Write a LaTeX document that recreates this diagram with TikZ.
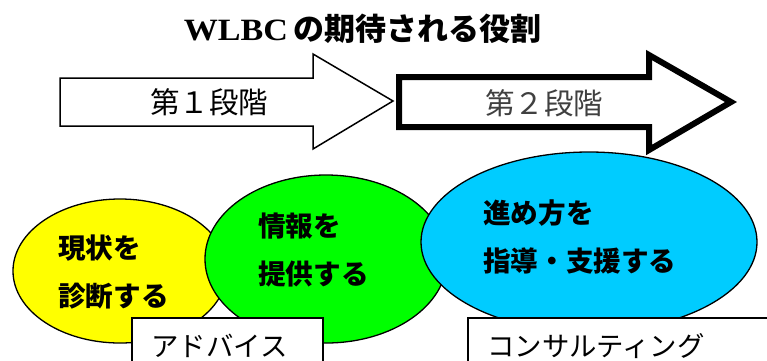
\documentclass[tikz,border=0pt]{standalone}
\usepackage{fontspec}
\setmainfont{Liberation Serif}
\newfontfamily\jp{Noto Sans CJK JP}
\definecolor{ylw}{RGB}{255,255,0}
\definecolor{grn}{RGB}{0,255,0}
\definecolor{blu}{RGB}{0,204,255}
\tikzset{
  bubble/.style={draw=black, line width=1.3pt},
  bubbletext/.style={anchor=west, inner sep=0pt, font=\jp\bfseries\fontsize{27.6}{27.6}\selectfont},
  labelbox/.style={draw=black, fill=white, line width=1.3pt},
  boxtext/.style={anchor=west, inner sep=0pt, font=\jp\fontsize{27.4}{27.4}\selectfont},
  arrowtext/.style={inner sep=0pt, font=\jp\fontsize{29.5}{29.5}\selectfont},
}
\begin{document}
\begin{tikzpicture}[x=1pt,y=-1pt]
\useasboundingbox (0,0) rectangle (767,360);
\clip (0,0) rectangle (767,360);
% title
\node[inner sep=0pt] (title) at (362.5,29)
  {\fontsize{31}{31}\selectfont\bfseries\scalebox{1.1}[1]{WLBC}\,{\jp\bfseries の期待される役割}};
% stage arrows
\draw[line width=1.5pt, fill=white] (60,78) -- (313,78) -- (313,54) -- (393,101)
  -- (313,149) -- (313,126) -- (60,126) -- cycle;
\node[arrowtext] (s1) at (209,102) {第１段階};
\draw[line width=6pt, fill=white, miter limit=10] (399,77) -- (649,77) -- (649,55)
  -- (731,102) -- (649,150) -- (649,127) -- (399,127) -- cycle;
\node[arrowtext, text=black!75] (s2) at (544,103) {第２段階};
% bubbles
\path[bubble, fill=ylw] (120,271) ellipse [x radius=107, y radius=72];
\path[bubble, fill=grn] (326,259) ellipse [x radius=121, y radius=84];
\path[bubble, fill=blu] (589,242) ellipse [x radius=168, y radius=90];
\node[bubbletext] (y1) at (58,248) {現状を};
\node[bubbletext] (y2) at (58,296) {診断する};
\node[bubbletext] (g1) at (258,226) {情報を};
\node[bubbletext] (g2) at (258,274) {提供する};
\node[bubbletext] (b1) at (483,213) {進め方を};
\node[bubbletext] (b2) at (483,261) {指導・支援する};
% label boxes
\path[labelbox] (132,318) rectangle (323,380);
\node[boxtext] (adv) at (151,346) {アドバイス};
\path[labelbox] (468,318) rectangle (790,380);
\node[boxtext] (con) at (487,346) {コンサルティング};
\end{tikzpicture}
\end{document}
